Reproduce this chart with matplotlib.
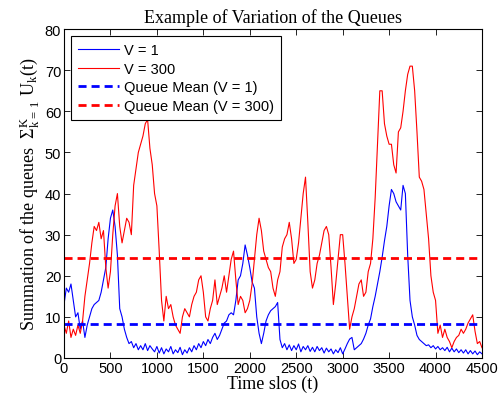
import numpy as np
import matplotlib
matplotlib.use("Agg")
import matplotlib.pyplot as plt

plt.rcParams['mathtext.fontset'] = 'custom'
plt.rcParams['mathtext.rm'] = 'Liberation Serif'
plt.rcParams['mathtext.it'] = 'Liberation Serif'

# time step of the hand-read samples
step = 25

# V = 300, read every 25 slots (0 .. 4500)
queue_v300 = [
    8, 6, 9, 5, 7, 5.5, 8, 6, 9, 15, 19, 23, 28, 32, 31, 33, 29, 31, 22, 17,
    21, 30, 37, 40, 32, 28, 31, 34, 33, 30, 42, 46, 50, 52, 54, 57, 58, 51, 47, 40,
    37, 26, 14, 9, 15, 12, 13, 10, 8, 7, 6, 10, 12, 11, 10, 13, 15, 16, 19, 20,
    16, 10, 9, 12, 14, 19, 13, 15, 17, 20, 16, 20, 24, 26, 19, 13, 15, 14, 11, 12,
    14, 18, 24, 30, 34, 31, 26, 24, 22, 21, 17, 15, 19, 21, 27, 29, 30, 33, 29, 23,
    24, 28, 34, 40, 44, 33, 21, 17, 19, 23, 25, 28, 31, 32, 30, 22, 13, 18, 24, 30,
    30, 23, 15, 7, 10, 12, 15, 18, 19, 15, 16, 21, 23, 29, 39, 52, 65, 65, 57, 54,
    52, 52, 47, 45, 55, 56, 60, 65, 69, 71, 71, 65, 55, 44, 43, 41, 35, 29, 20, 16,
    14, 6, 8, 5, 7, 5, 4, 2.5, 4, 5, 5.5, 7, 6, 7, 8.5, 9.5, 10.5, 6.5, 3.5, 4,
    2.5,
]

# V = 1, same slots
queue_v1 = [
    13, 17, 16, 18, 14, 10, 11, 7, 9, 5, 8, 10, 12, 13, 13.5, 14, 16, 19, 22, 29,
    34, 36, 32, 25, 12, 10, 7, 5, 3.5, 4, 2.5, 3.5, 2, 3, 2, 3.5, 1.8, 3, 2.2, 1.5,
    2.8, 1.2, 2.5, 1, 2.2, 1.5, 2.8, 1, 2, 1.3, 2.6, 0.8, 2, 1.2, 2.5, 1.5, 3, 2, 3.5, 2.5,
    4, 3, 4.5, 3.5, 5, 6, 4.5, 5.5, 7, 8.5, 9, 10.5, 11, 10.5, 14, 19, 20, 23, 27.5, 25,
    22, 18.5, 17, 10, 6, 3.5, 6, 9, 10.5, 11.5, 12, 12.5, 13.5, 4.5, 2.5, 3.5, 2, 3.2, 1.8, 3,
    2, 3.4, 1.5, 2.8, 2, 3, 1.6, 2.6, 1.5, 2.8, 1.8, 2.5, 1.2, 2.4, 1.5, 2.2, 1, 2, 1.3, 2.5,
    1, 2.2, 3.5, 4.6, 5, 2, 2.5, 3, 3.5, 4.6, 6, 8, 9.5, 12.5, 15, 18, 21, 24.5, 28.5, 32,
    37, 41, 40, 38, 37, 36, 42, 40, 25, 14, 10, 8, 5.5, 4.5, 4, 3.5, 3, 3.2, 2.5, 3,
    2.2, 2.8, 2, 2.5, 1.8, 2.6, 1.5, 2.4, 1.5, 2.2, 1.3, 2, 1.2, 2, 1, 1.8, 1, 1.7, 0.8, 1.5,
    1,
]

mean_v1 = 8.3
mean_v300 = 24.3

t_red = np.arange(len(queue_v300)) * step
t_blue = np.arange(len(queue_v1)) * step

fig = plt.figure(figsize=(5, 4.02), dpi=100)
ax = fig.add_axes([0.128, 0.107, 0.836, 0.818])

ax.plot(t_blue, queue_v1, color='blue', lw=0.8, label='V = 1')
ax.plot(t_red, queue_v300, color='red', lw=0.8, label='V = 300')
ax.plot([0, 4500], [mean_v1, mean_v1], color='blue', lw=2, dashes=(2.9, 1.8),
        label='Queue Mean (V = 1)')
ax.plot([0, 4500], [mean_v300, mean_v300], color='red', lw=2, dashes=(2.9, 1.8),
        label='Queue Mean (V = 300)')

ax.set_xlim(0, 4500)
ax.set_ylim(0, 80)
ax.set_xticks(np.arange(0, 4501, 500))
ax.set_yticks(np.arange(0, 81, 10))
ax.tick_params(direction='in', length=4, width=0.6, top=True, right=True,
               labelsize=10.5, pad=2)
for lab in ax.get_xticklabels() + ax.get_yticklabels():
    lab.set_family('Liberation Sans')
for s in ax.spines.values():
    s.set_linewidth(0.8)

ax.set_title('Example of Variation of the Queues', family='Liberation Serif',
             fontsize=13, pad=5)
ax.set_xlabel('Time slos (t)', family='Liberation Serif', fontsize=13, labelpad=0)
ax.set_ylabel('Summation of the queues  $\\Sigma^{\\mathrm{K}}_{\\mathrm{k\\,=\\,1}}\\ \\mathrm{U}_{\\mathrm{k}}(\\mathrm{t})$',
              family='Liberation Serif', fontsize=13, labelpad=3)

leg = ax.legend(loc='upper left', prop={'family': 'Liberation Sans', 'size': 10.5},
                fancybox=False, edgecolor='black', framealpha=1, handlelength=2.8,
                borderaxespad=0.45, labelspacing=0.32, borderpad=0.5, handletextpad=0.35)
leg.get_frame().set_linewidth(0.8)

fig.savefig('out.png', dpi=100)
